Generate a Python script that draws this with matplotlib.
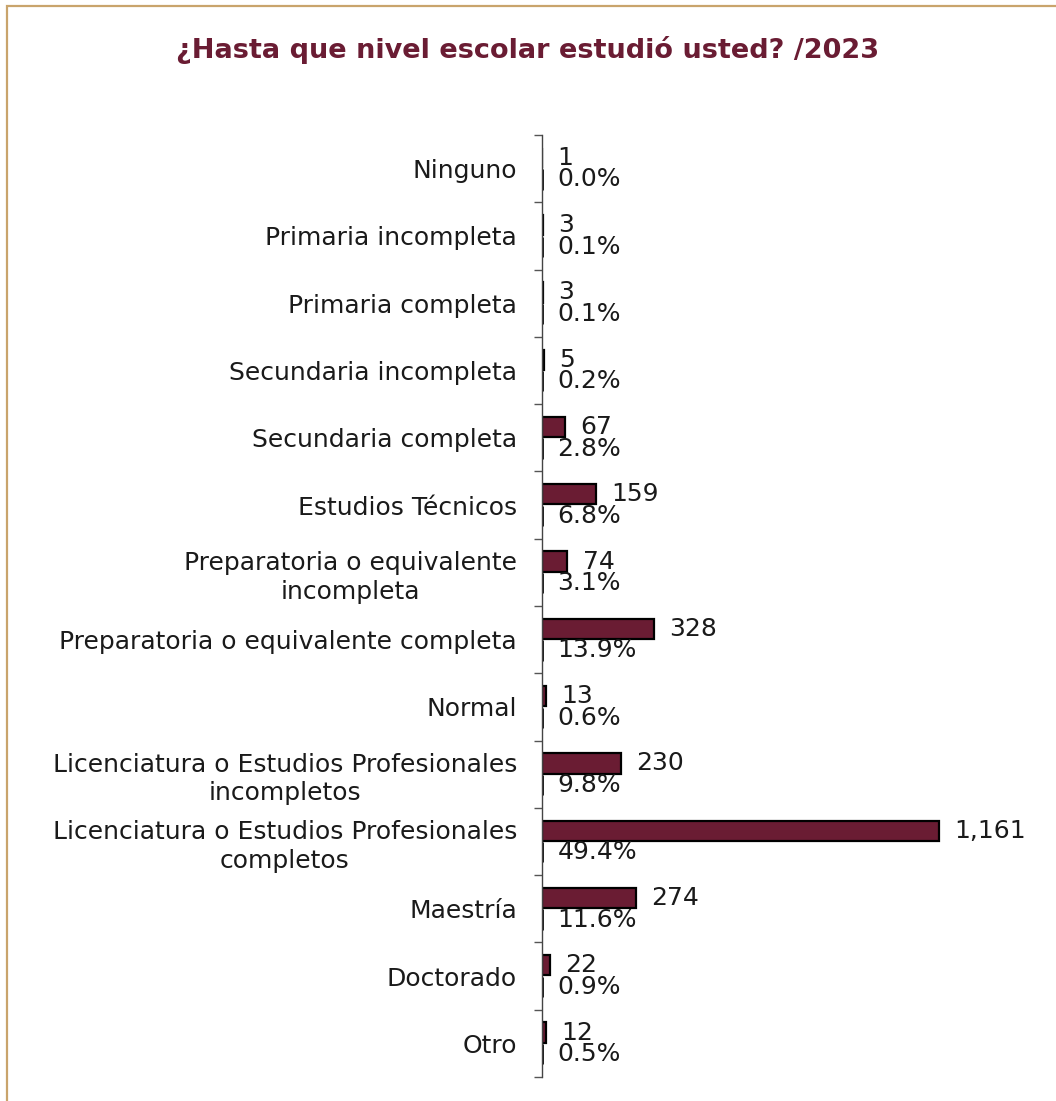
import matplotlib.pyplot as plt
import numpy as np
from matplotlib.patches import Rectangle

plt.rcParams['font.family'] = ['DejaVu Sans']

# escolaridad de los encuestados
categorias = [
    'Ninguno',
    'Primaria incompleta',
    'Primaria completa',
    'Secundaria incompleta',
    'Secundaria completa',
    'Estudios Técnicos',
    'Preparatoria o equivalente\nincompleta',
    'Preparatoria o equivalente completa',
    'Normal',
    'Licenciatura o Estudios Profesionales\nincompletos',
    'Licenciatura o Estudios Profesionales\ncompletos',
    'Maestría',
    'Doctorado',
    'Otro',
]
conteos = [1, 3, 3, 5, 67, 159, 74, 328, 13, 230, 1161, 274, 22, 12]
porcentajes = [0.0, 0.1, 0.1, 0.2, 2.8, 6.8, 3.1, 13.9, 0.6, 9.8, 49.4, 11.6, 0.9, 0.5]

guinda = '#6A1C33'
dorado = '#C9A46C'
texto = '#1a1a1a'

W, H = 1056, 1101
fig = plt.figure(figsize=(W / 100, H / 100), dpi=100)

# marco dorado del slide
fig.patches.append(Rectangle((7 / W, -0.1), 1.2, (H - 6) / H + 0.1,
                             transform=fig.transFigure, fill=False,
                             edgecolor=dorado, linewidth=1.6))

fig.text(528 / W, 1 - 50 / H, '¿Hasta que nivel escolar estudió usted? /2023',
         ha='center', va='center', fontsize=19.5, fontweight='bold',
         color=guinda)

# eje: izquierda en x=542, de y=135 a y=1077
x0, x1 = 542, 1040
ax = fig.add_axes([x0 / W, 1 - 1077 / H, (x1 - x0) / W, (1077 - 135) / H])
ax.patch.set_alpha(0)

y = np.arange(len(categorias))
px_por_unidad = (939 - 542) / 1161
ax.set_xlim(0, (x1 - x0) / px_por_unidad)
ax.set_ylim(len(categorias) - 0.5, -0.5)

b1 = ax.barh(y - 0.16, conteos, height=0.3, color=guinda,
             edgecolor='black', linewidth=1.6)
b2 = ax.barh(y + 0.16, np.array(porcentajes) / 100, height=0.3,
             color='white', edgecolor='black', linewidth=2.0)

ax.bar_label(b1, labels=[f'{v:,}' for v in conteos], padding=11,
             fontsize=18, color=texto)
ax.bar_label(b2, labels=[f'{p:.1f}%' for p in porcentajes], padding=11,
             fontsize=18, color=texto)

for s in ['top', 'right', 'bottom']:
    ax.spines[s].set_visible(False)
ax.spines['left'].set_color('#444444')
ax.spines['left'].set_linewidth(1.0)

ax.set_xticks([])
ax.set_yticks(y)
ax.set_yticklabels(categorias, fontsize=18, color=texto,
                   multialignment='center', linespacing=1.25)
ax.tick_params(axis='y', which='major', length=0, pad=18)
ax.set_yticks(np.arange(len(categorias) + 1) - 0.5, minor=True)
ax.tick_params(axis='y', which='minor', length=6, width=1.0, color='#555555')

fig.savefig('out.png', dpi=100)
